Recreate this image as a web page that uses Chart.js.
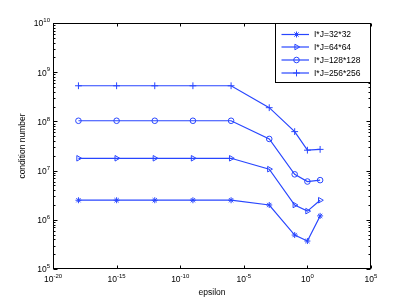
<!DOCTYPE html>
<html><head><meta charset="utf-8">
<script src="https://cdn.jsdelivr.net/npm/chart.js@4/dist/chart.umd.min.js"></script>
<style>html,body{margin:0;padding:0;background:#fff;}</style>
</head><body>
<canvas id="c" width="409" height="303"></canvas>
<script>
const epsilon = [1e-18, 1e-15, 1e-12, 1e-9, 1e-6, 1e-3, 1e-1, 1, 10];
const cond32  = [2.5e6, 2.5e6, 2.5e6, 2.5e6, 2.5e6, 2.0e6, 4.9e5, 3.7e5, 1.2e6];
const cond64  = [1.78e7, 1.78e7, 1.78e7, 1.78e7, 1.78e7, 1.07e7, 2.0e6, 1.5e6, 2.5e6];
const cond128 = [1.03e8, 1.03e8, 1.03e8, 1.03e8, 1.03e8, 4.4e7, 8.4e6, 6.0e6, 6.4e6];
const cond256 = [5.3e8, 5.3e8, 5.3e8, 5.3e8, 5.3e8, 1.9e8, 6.2e7, 2.6e7, 2.7e7];
const seriesLabels = ['I*J=32*32', 'I*J=64*64', 'I*J=128*128', 'I*J=256*256'];
const xTicks = [1e-20, 1e-15, 1e-10, 1e-5, 1e0, 1e5];
const xTickExps = ['-20', '-15', '-10', '-5', '0', '5'];
const yTicks = [1e5, 1e6, 1e7, 1e8, 1e9, 1e10];
const yTickExps = ['5', '6', '7', '8', '9', '10'];
const tickBase = '10';

const BLUE = 'rgb(40,70,255)';
const FONT = "'Liberation Sans', Arial, Helvetica, sans-serif";

function mk(label, vals, style, radius, rot) {
  return {
    label: label,
    data: epsilon.map((e, i) => ({x: e, y: vals[i]})),
    borderColor: BLUE, backgroundColor: 'rgba(0,0,0,0)',
    borderWidth: 1.2, pointStyle: style, pointRadius: radius,
    pointRotation: rot, pointBorderColor: BLUE, pointBackgroundColor: 'rgba(0,0,0,0)',
    pointBorderWidth: 1, tension: 0, fill: false
  };
}

const datasets = [
  mk(seriesLabels[0], cond32, 'star', 3, 0),
  mk(seriesLabels[1], cond64, 'triangle', 3.2, 90),
  mk(seriesLabels[2], cond128, 'circle', 2.8, 0),
  mk(seriesLabels[3], cond256, 'cross', 3.4, 0)
];

const BASE_FONT = '8.5px ' + FONT;
const EXP_FONT = '6px ' + FONT;

const framePlugin = {
  id: 'frame',
  afterDraw(chart) {
    const ctx = chart.ctx;
    const a = chart.chartArea;
    const xs = chart.scales.x, ys = chart.scales.y;
    ctx.save();
    ctx.strokeStyle = '#000';
    ctx.lineWidth = 1;
    const L = Math.round(a.left) + 0.5, R = Math.round(a.right) - 0.5;
    const T = Math.round(a.top) + 0.5, B = Math.round(a.bottom) - 0.5;
    ctx.strokeRect(L, T, R - L, B - T);
    ctx.beginPath();
    xTicks.forEach(v => {
      const px = Math.round(xs.getPixelForValue(v)) + 0.5;
      ctx.moveTo(px, B); ctx.lineTo(px, B - 3);
      ctx.moveTo(px, T); ctx.lineTo(px, T + 3);
    });
    yTicks.forEach(v => {
      const py = Math.round(ys.getPixelForValue(v)) + 0.5;
      ctx.moveTo(L, py); ctx.lineTo(L + 4, py);
      ctx.moveTo(R, py); ctx.lineTo(R - 4, py);
    });
    for (let k = 5; k < 10; k++) {
      for (let m = 2; m <= 9; m++) {
        const py = Math.round(ys.getPixelForValue(m * Math.pow(10, k))) + 0.5;
        ctx.moveTo(L, py); ctx.lineTo(L + 2, py);
        ctx.moveTo(R, py); ctx.lineTo(R - 2, py);
      }
    }
    ctx.stroke();

    // tick labels: base "10" with raised exponent
    ctx.fillStyle = '#000';
    ctx.textBaseline = 'middle';
    ctx.textAlign = 'left';
    yTicks.forEach((v, i) => {
      const py = ys.getPixelForValue(v);
      ctx.font = EXP_FONT;
      const ew = ctx.measureText(yTickExps[i]).width;
      ctx.font = BASE_FONT;
      const bw = ctx.measureText(tickBase).width;
      const right = a.left - 3;
      ctx.fillText(tickBase, right - ew - bw, py + 1);
      ctx.font = EXP_FONT;
      ctx.fillText(yTickExps[i], right - ew, py - 2.5);
    });
    xTicks.forEach((v, i) => {
      const px = xs.getPixelForValue(v);
      ctx.font = EXP_FONT;
      const ew = ctx.measureText(xTickExps[i]).width;
      ctx.font = BASE_FONT;
      const bw = ctx.measureText(tickBase).width;
      const start = px - (bw + ew) / 2;
      ctx.fillText(tickBase, start, a.bottom + 11);
      ctx.font = EXP_FONT;
      ctx.fillText(xTickExps[i], start + bw, a.bottom + 7.5);
    });

    // legend
    const bx = 275.5, by = 23.5, bw = 95, bh = 59;
    ctx.fillStyle = '#fff';
    ctx.fillRect(bx, by, bw, bh);
    ctx.strokeStyle = '#000';
    ctx.strokeRect(bx, by, bw, bh);
    const rows = [34.5, 47, 60, 73];
    ctx.font = BASE_FONT;
    ctx.textBaseline = 'middle';
    chart.data.datasets.forEach((ds, i) => {
      const y = rows[i];
      ctx.strokeStyle = BLUE;
      ctx.lineWidth = 1.2;
      ctx.beginPath(); ctx.moveTo(281.5, y); ctx.lineTo(309, y); ctx.stroke();
      ctx.lineWidth = 1;
      ctx.fillStyle = 'rgba(0,0,0,0)';
      Chart.helpers.drawPoint(ctx, {pointStyle: ds.pointStyle, radius: ds.pointRadius, rotation: ds.pointRotation, borderWidth: 1}, 296.5, y);
      ctx.fillStyle = '#000';
      ctx.fillText(ds.label, 314, y + 0.5);
    });
    ctx.restore();
  }
};

new Chart(document.getElementById('c'), {
  type: 'line',
  data: {datasets: datasets},
  options: {
    responsive: false, animation: false,
    events: [],
    layout: {padding: {left: 0, right: 38, top: 23, bottom: 0}},
    plugins: {legend: {display: false}, tooltip: {enabled: false}},
    scales: {
      x: {
        type: 'logarithmic', min: 1e-20, max: 1e5,
        grid: {display: false}, border: {display: false},
        afterBuildTicks: s => { s.ticks = xTicks.map(v => ({value: v})); },
        afterFit: s => { s.height = 34; },
        ticks: {display: false},
        title: {display: true, text: 'epsilon', color: '#000', font: {family: FONT, size: 8.5}, padding: {top: 0, bottom: 5}}
      },
      y: {
        type: 'logarithmic', min: 1e5, max: 1e10,
        grid: {display: false}, border: {display: false},
        afterBuildTicks: s => { s.ticks = yTicks.map(v => ({value: v})); },
        afterFit: s => { s.width = 53; },
        ticks: {display: false},
        title: {display: true, text: 'condition number', color: '#000', font: {family: FONT, size: 8.5}, padding: {top: 18, bottom: 0}}
      }
    }
  },
  plugins: [framePlugin]
});
</script>
</body></html>
